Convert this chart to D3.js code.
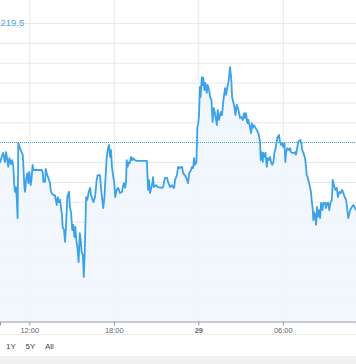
<!DOCTYPE html>
<html><head><meta charset="utf-8">
<script src="https://cdn.jsdelivr.net/npm/d3@7"></script>
<style>
html,body{margin:0;padding:0;background:#fff;}
svg{display:block;font-family:"Liberation Sans",Arial,Helvetica,sans-serif;}
</style></head>
<body><svg id="chart" width="356" height="364"></svg>
<script>
// minutes since 00:00 on day 28
const timesMin = [595,602,609,616,621,626,630,635,642,647,652,655,659,663,666,670,673,680,692,694,699,702,706,711,716,720,726,730,734,737,751,773,777,780,787,790,794,801,808,811,815,822,829,837,841,845,851,855,859,862,868,872,876,882,889,893,898,903,907,912,916,920,925,930,935,939,943,948,952,956,962,967,973,979,983,987,993,1000,1007,1011,1021,1025,1031,1035,1040,1044,1050,1055,1060,1064,1068,1072,1078,1082,1086,1092,1099,1106,
1115,1118,1123,1128,1132,1135,1139,1145,1149,1153,1158,1162,1170,1179,1221,1226,1230,1234,1243,1247,1251,1260,1268,1285,1290,1298,1307,1311,1320,1328,1332,1337,1341,1349,1354,1362,1371,1375,1383,1392,1396,1401,1409,1413,1418,1422,1426,1432,1436,1440,1443,1447,1450,1455,1459,1461,1466,1470,1476,1480,1486,1490,1496,1501,1506,1511,1519,1523,1528,1536,1541,1547,1554,1558,1564,1570,1575,1580,1584,1589,1594,1598,1604,1611,1618,
1625,1629,1635,1639,1643,1649,1653,1660,1665,1668,1672,1678,1682,1689,1696,1700,1703,1706,1710,1715,1717,1721,1726,1732,1736,1741,1746,1750,1755,1760,1764,1768,1774,1778,1784,1788,1793,1797,1802,1807,1811,1814,1819,1827,1831,1835,1841,1848,1852,1856,1862,1866,1874,1879,1883,1888,1895,1899,1902,1906,1911,1916,1920,1923,1928,1930,1933,1937,1942,1946,1950,1955,1959,1963,1969,1973,1980,1984,1989,1994,1998,2003,2009,2013,2018,2023,2030,2035,2041,2047,2053,2058,2064,2070,2075,2079,2087,2094,2101,2108,2112];
const prices = [218.98,219.13,219.23,219.00,219.25,219.05,218.88,219.10,218.95,219.05,218.88,218.47,218.25,218.37,218.12,217.59,219.48,219.35,219.18,218.98,218.37,218.25,218.55,218.72,218.47,218.75,218.42,218.62,218.93,218.80,218.80,218.80,218.75,218.50,218.50,218.83,218.72,218.60,218.47,218.30,218.22,218.17,218.17,217.92,218.12,217.99,218.05,217.84,217.67,217.37,217.29,216.99,217.37,218.12,218.25,217.87,217.72,217.29,217.42,217.11,217.37,217.04,216.86,216.48,217.21,217.04,216.74,216.66,216.11,216.71,218.12,218.05,218.25,218.35,218.17,218.10,217.99,218.12,218.55,218.67,218.67,218.37,218.05,217.84,218.12,218.55,219.13,219.35,219.43,219.13,219.30,218.88,218.62,218.47,218.12,218.30,218.35,218.22,
218.25,218.37,218.47,218.35,218.50,219.05,218.88,219.00,218.98,219.13,219.05,219.10,219.05,219.03,219.03,218.30,218.55,218.22,218.42,218.62,218.37,218.42,218.37,218.35,218.37,218.60,218.60,218.50,218.37,218.42,218.37,218.35,218.55,218.67,218.88,218.85,218.88,218.72,218.67,218.55,218.47,218.72,218.80,218.88,218.85,219.10,218.93,219.00,219.88,219.98,220.18,220.89,220.64,221.14,220.94,221.12,220.81,220.99,220.74,220.94,220.81,220.64,220.56,220.01,220.36,220.23,219.93,220.31,220.06,220.26,220.18,220.56,220.86,220.69,220.89,221.07,221.39,221.14,220.64,220.51,220.39,220.18,220.44,220.31,220.11,
220.13,220.06,220.23,220.11,220.23,219.98,220.06,219.88,219.73,219.98,219.86,219.93,219.88,219.81,219.73,219.61,219.51,219.05,219.25,219.00,219.23,219.13,219.23,218.88,219.10,219.05,219.13,219.00,218.93,219.00,219.23,219.30,219.51,219.63,219.68,219.51,219.43,219.48,219.38,219.48,219.00,219.23,219.35,219.30,219.35,219.25,219.23,219.23,219.25,219.18,219.38,219.51,219.56,219.48,219.30,219.23,219.10,218.88,218.67,218.62,218.50,218.37,218.25,218.05,217.79,217.54,217.74,217.67,217.42,217.87,217.62,217.79,217.59,217.97,217.79,217.97,217.97,217.84,217.97,217.97,217.79,217.97,218.05,218.55,218.42,218.30,218.35,218.12,218.25,218.22,218.30,218.22,218.12,218.05,217.79,217.59,217.79,217.87,217.92,217.84,217.79];
const viewMinutes = [595, 2112];
const yTicks = [215.5,216,216.5,217,217.5,218,218.5,219,219.5,220,220.5,221,221.5,222,222.5];
const yDomain = [215, 222.5];
const lastPriceLine = 219.5;
const labelText = "219.5";
const rangeButtons = ["1Y", "5Y", "All"];

const baseDay = new Date(2021, 5, 28);
const toDate = m => new Date(baseDay.getTime() + m * 60000);
const data = timesMin.map((m, i) => ({t: toDate(m), v: prices[i]}));

const W = 356, plotBottom = 321;
const svg = d3.select("#chart");
const x = d3.scaleTime().domain(viewMinutes.map(toDate)).range([0, W]);
const y = d3.scaleLinear().domain(yDomain).range([plotBottom, 23]);

// horizontal gridlines
svg.append("g").attr("class","ygrid")
  .call(d3.axisRight(y).tickValues(yTicks).tickSize(W).tickFormat(""))
  .call(g => g.select(".domain").remove())
  .call(g => g.selectAll("line").attr("stroke", "#e3e9f0").attr("stroke-width", 1));

// vertical gridlines
const hourTicks = d3.timeHour.every(6);
svg.append("g").attr("class","xgrid").attr("transform", `translate(0,${plotBottom})`)
  .call(d3.axisBottom(x).ticks(hourTicks).tickSize(-plotBottom).tickFormat(""))
  .call(g => g.select(".domain").remove())
  .call(g => g.selectAll("line").attr("stroke", "#e3e9f0").attr("stroke-width", 1));

// area + line
svg.append("path").datum(data)
  .attr("fill", "#eef6fd").attr("fill-opacity", 0.85)
  .attr("d", d3.area().x(d => x(d.t)).y0(plotBottom).y1(d => y(d.v)));
svg.append("path").datum(data)
  .attr("fill", "none").attr("stroke", "#3ba2ea").attr("stroke-width", 1.8)
  .attr("stroke-linejoin", "round")
  .attr("d", d3.line().x(d => x(d.t)).y(d => y(d.v)));

// last price dotted line
svg.append("line").attr("x1", 0).attr("x2", W)
  .attr("y1", Math.round(y(lastPriceLine)) + 0.5).attr("y2", Math.round(y(lastPriceLine)) + 0.5)
  .attr("stroke", "#4aa3df").attr("stroke-width", 1).attr("stroke-dasharray", "1,1");

svg.append("text").attr("x", 0.5).attr("y", 25.5)
  .attr("font-size", "9.5px").attr("fill", "#4fa6e4").text(labelText);

// x axis
const fmt = d => d.getHours() === 0 ? d3.timeFormat("%-d")(d) : d3.timeFormat("%H:%M")(d);
const xAxis = svg.append("g").attr("transform", `translate(0,${plotBottom + 0.5})`)
  .call(d3.axisBottom(x).ticks(hourTicks).tickSize(4).tickPadding(2).tickFormat(fmt));
xAxis.select(".domain").attr("stroke", "#8f9aa6").attr("stroke-width", 1.2);
xAxis.selectAll(".tick line").attr("stroke", "#8f9aa6");
xAxis.selectAll(".tick text").attr("font-size", "7.5px").attr("fill", "#666")
  .attr("font-family", '"Liberation Sans",Arial,sans-serif')
  .attr("font-weight", d => d.getHours() === 0 ? "bold" : "normal");

// separator and range selector
svg.append("line").attr("x1", 0).attr("x2", W).attr("y1", 334.5).attr("y2", 334.5)
  .attr("stroke", "#ececec");
svg.append("rect").attr("x", 0).attr("y", 356).attr("width", W).attr("height", 8).attr("fill", "#f0f0f0");
const btnX = d3.scalePoint().domain(rangeButtons).range([6, 45]);
svg.selectAll("text.btn").data(rangeButtons).join("text").attr("class","btn")
  .attr("x", d => btnX(d)).attr("y", 349)
  .attr("font-size", "8px").attr("fill", "#444").text(d => d);
</script></body></html>
